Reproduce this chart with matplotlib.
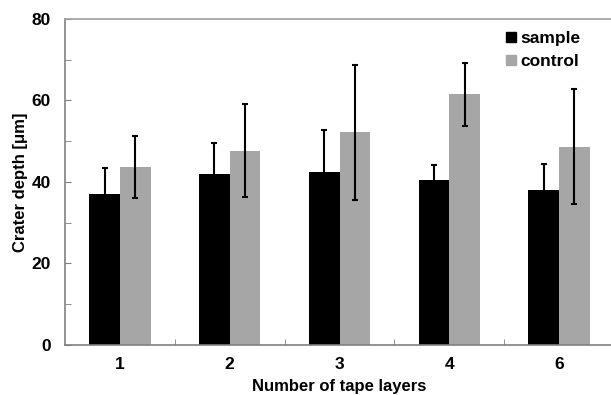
import numpy as np
import matplotlib.pyplot as plt
from matplotlib.patches import Patch

plt.rcParams['font.family'] = ['Liberation Sans', 'DejaVu Sans']
plt.rcParams['font.weight'] = 'bold'

layers = ['1', '2', '3', '4', '6']
sample = [37.0, 42.0, 42.5, 40.4, 38.1]
sample_err = [6.5, 7.6, 10.3, 3.8, 6.3]
control = [43.7, 47.7, 52.2, 61.5, 48.6]
control_err = [7.6, 11.5, 16.6, 7.7, 14.1]

fig = plt.figure(figsize=(6.11, 3.95), dpi=100)
ax = fig.add_axes([0.1064, 0.1266, 0.8985, 0.8253])

x = np.arange(len(layers))
w = 0.28
ekw = dict(ecolor='black', elinewidth=1.5, capsize=2, capthick=1.5)
ax.bar(x - w/2, sample, w, color='black', yerr=sample_err, error_kw=ekw, label='sample')
ax.bar(x + w/2, control, w, color='#a6a6a6', yerr=control_err, error_kw=ekw, label='control')

ax.set_xlim(-0.5, len(layers) - 0.5)
ax.set_ylim(0, 80)
ax.set_xticks(x)
ax.set_xticklabels(layers)
ax.set_xticks(x[:-1] + 0.5, minor=True)
ax.set_yticks([0, 20, 40, 60, 80])
ax.set_yticks([10, 30, 50, 70], minor=True)
ax.tick_params(axis='x', which='major', length=0, pad=9, labelsize=12.5)
ax.tick_params(axis='x', which='minor', direction='in', length=4, color='#808080')
ax.tick_params(axis='y', which='both', direction='in', length=4, color='#808080', labelsize=12.5, pad=10)

for s in ax.spines.values():
    s.set_color('#808080')
    s.set_linewidth(1.2)
ax.spines['top'].set_color('#a0a0a0')

ax.set_ylabel('Crater depth [\u03bcm]', fontsize=12, fontweight='bold', labelpad=3)
ax.set_xlabel('Number of tape layers', fontsize=12, fontweight='bold', labelpad=4.5)

handles = [Patch(color='black'), Patch(color='#a6a6a6')]
ax.legend(handles, ['sample', 'control'], loc='upper left', bbox_to_anchor=(0.775, 1.01),
          frameon=False, handlelength=0.55, handleheight=0.55, handletextpad=0.3,
          labelspacing=0.45, prop={'size': 12.5, 'weight': 'bold'})

plt.savefig('out.png', dpi=100)
